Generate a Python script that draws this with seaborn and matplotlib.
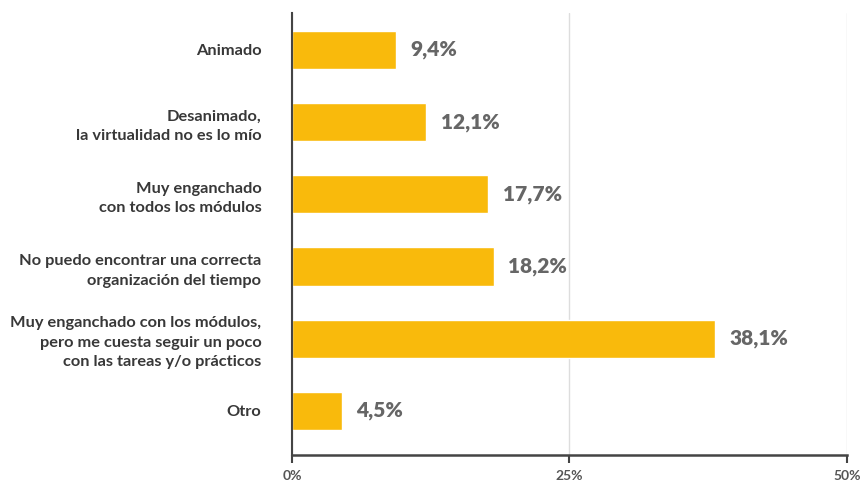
import matplotlib
matplotlib.use("Agg")
import matplotlib.pyplot as plt
import seaborn as sns
import pandas as pd

categorias = [
    "Animado",
    "Desanimado,\nla virtualidad no es lo mío",
    "Muy enganchado\ncon todos los módulos",
    "No puedo encontrar una correcta\norganización del tiempo",
    "Muy enganchado con los módulos,\npero me cuesta seguir un poco\ncon las tareas y/o prácticos",
    "Otro",
]
porcentajes = [9.4, 12.1, 17.7, 18.2, 38.1, 4.5]
etiquetas = ["9,4%", "12,1%", "17,7%", "18,2%", "38,1%", "4,5%"]
ticks_x = [0, 25, 50]
ticks_lbl = ["0%", "25%", "50%"]

df = pd.DataFrame({"cat": categorias, "pct": porcentajes})

sns.set_style("white", {"xtick.bottom": True, "xtick.direction": "out"})
plt.rcParams["font.family"] = ["Lato", "DejaVu Sans"]

fig = plt.figure(figsize=(8.65, 4.86), dpi=100)
ax = fig.add_axes([0.3376, 0.0638, 0.979 - 0.3376, 0.973 - 0.0638])

sns.barplot(data=df, x="pct", y="cat", color="#F9BA0C", width=0.53,
            saturation=1, ax=ax, orient="h")

for i, (v, t) in enumerate(zip(porcentajes, etiquetas)):
    ax.text(v + 1.3, i, t, va="center", ha="left", fontsize=15,
            fontweight="heavy", color="#666666")

ax.set_xlim(0, 50)
ax.set_ylim(5.61, -0.51)
ax.set_xticks(ticks_x)
ax.set_xticklabels(ticks_lbl, fontsize=10, fontweight="bold", color="#555555")
ax.set_yticks(range(len(categorias)))
ax.set_yticklabels(categorias, fontsize=11.8, fontweight="bold", color="#383838")
for lbl in ax.get_yticklabels():
    lbl.set_linespacing(1.5)
ax.tick_params(axis="x", length=6, width=1.5, color="#444444", pad=5)
ax.tick_params(axis="y", left=False, length=0, pad=22)
ax.set_xlabel("")
ax.set_ylabel("")
ax.xaxis.grid(True, color="#dddddd", linewidth=1)
ax.set_axisbelow(True)
ax.spines["top"].set_visible(False)
ax.spines["right"].set_visible(False)
ax.spines["left"].set_color("#444444")
ax.spines["left"].set_linewidth(1.5)
ax.spines["bottom"].set_color("#444444")
ax.spines["bottom"].set_linewidth(1.8)
ax.spines["bottom"].set_zorder(5)

fig.savefig("out.png", dpi=100)
